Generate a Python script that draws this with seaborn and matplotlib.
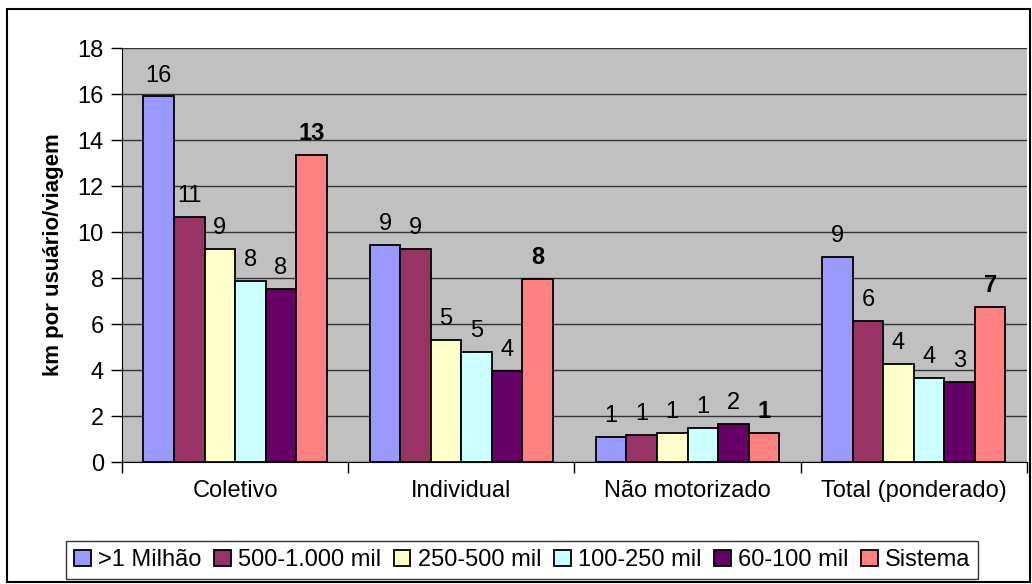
import matplotlib
matplotlib.use("Agg")
import matplotlib.pyplot as plt
from matplotlib.patches import Rectangle
import seaborn as sns
import pandas as pd

grupos = ["Coletivo", "Individual", "Não motorizado", "Total (ponderado)"]
faixas = [">1 Milhão", "500-1.000 mil", "250-500 mil", "100-250 mil", "60-100 mil", "Sistema"]

milhao = [15.9, 9.43, 1.09, 8.91]
mil500_1000 = [10.65, 9.26, 1.17, 6.13]
mil250_500 = [9.26, 5.30, 1.26, 4.26]
mil100_250 = [7.87, 4.78, 1.48, 3.65]
mil60_100 = [7.52, 3.96, 1.65, 3.48]
sistema = [13.35, 7.96, 1.26, 6.74]

cores = ["#9999FF", "#993366", "#FFFFCC", "#CCFFFF", "#660066", "#FF8080"]

series = [milhao, mil500_1000, mil250_500, mil100_250, mil60_100, sistema]
rows = []
for faixa, vals in zip(faixas, series):
    for g, v in zip(grupos, vals):
        rows.append({"grupo": g, "faixa": faixa, "valor": v})
df = pd.DataFrame(rows)

plt.rcParams["font.family"] = ["Liberation Sans", "DejaVu Sans"]

fig = plt.figure(figsize=(10.32, 5.84), dpi=100)
ax = fig.add_axes([0.1182, 0.2089, 0.8768, 0.7089])
ax.set_facecolor("#C0C0C0")

sns.barplot(data=df, x="grupo", y="valor", hue="faixa", order=grupos,
            hue_order=faixas, palette=cores, saturation=1, edgecolor="black",
            linewidth=1.3, width=0.81, gap=0, errorbar=None, ax=ax, zorder=3)

for i, cont in enumerate(ax.containers):
    ax.bar_label(cont, fmt="%.0f", padding=7, fontsize=17,
                 fontweight="bold" if faixas[i] == "Sistema" else "normal")

ax.set_ylim(0, 18)
ax.set_yticks(range(0, 19, 2))
ax.set_xlim(-0.5, 3.5)
ax.set_xticks([0, 1, 2, 3])
ax.set_xticklabels(grupos, fontsize=17)
ax.set_xticks([-0.5, 0.5, 1.5, 2.5, 3.5], minor=True)
ax.tick_params(axis="x", which="major", length=0, pad=13)
ax.tick_params(axis="x", which="minor", length=8, width=1, direction="out")
ax.tick_params(axis="y", length=8, width=1, direction="out", labelsize=17, pad=5)
ax.yaxis.grid(True, color="#333333", linewidth=1, zorder=0)
ax.set_axisbelow(True)
ax.set_xlabel("")
ax.set_ylabel("km por usuário/viagem", fontsize=16, fontweight="bold", labelpad=10)

for side in ["top", "right"]:
    ax.spines[side].set_visible(False)
ax.spines["left"].set_color("black")
ax.spines["bottom"].set_color("black")

handles, labels = ax.get_legend_handles_labels()
if ax.legend_:
    ax.legend_.remove()
leg = fig.legend(handles, labels, loc="center", bbox_to_anchor=(0.506, 0.041),
                 ncol=6, fontsize=17, frameon=True, fancybox=False,
                 edgecolor="black", handlelength=0.7, handleheight=0.7,
                 handletextpad=0.3, columnspacing=0.55, borderpad=0.35)
leg.get_frame().set_linewidth(1.0)

fig.patches.append(Rectangle((0.007, 0.004), 0.991, 0.981, transform=fig.transFigure,
                             fill=False, edgecolor="black", linewidth=1.5))

fig.savefig("out.png", dpi=100, facecolor="white")
